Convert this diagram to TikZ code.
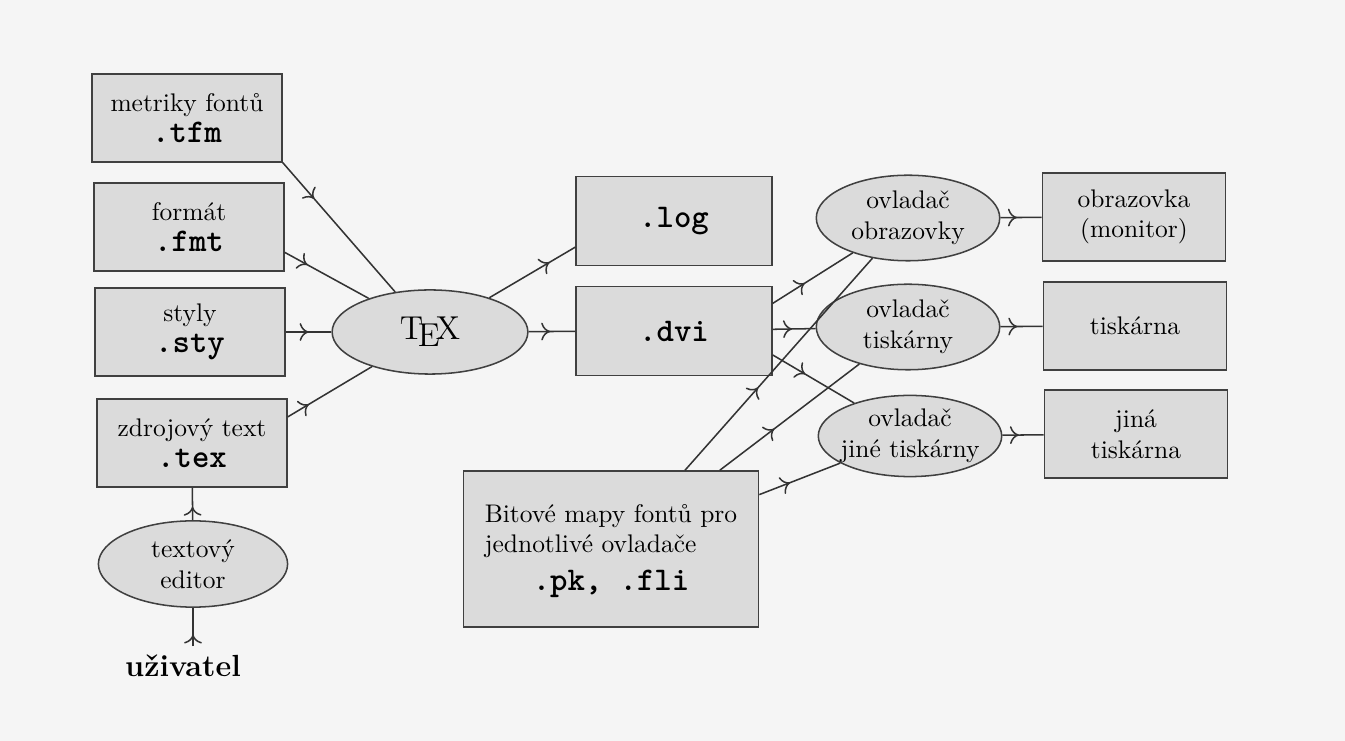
\documentclass[tikz,border=0pt]{standalone}
\usepackage{fontspec}
\usepackage{tikz}
\usetikzlibrary{arrows.meta}
\usetikzlibrary{shapes.geometric}
\usetikzlibrary{decorations.markings}

\newcommand{\fext}[1]{{\fontsize{13}{15}\selectfont\ttfamily\bfseries #1}}

\begin{document}
\begin{tikzpicture}[
x=0.0138cm, y=-0.0138cm,
box/.style={rectangle, draw=black!75, fill=black!14, line width=0.6pt,
minimum width=2.62cm, minimum height=1.21cm, align=center, inner sep=2pt},
drv/.style={ellipse, draw=black!75, fill=black!14, line width=0.6pt,
minimum width=2.53cm, minimum height=1.18cm, align=center, inner xsep=-4mm, inner ysep=0pt},
flow/.style={draw=black!80, line width=0.6pt, postaction={decorate},
decoration={markings, mark=at position #1 with {\arrow{To[length=3.5pt, width=7pt]}}}},
flow/.default=0.4
]
\useasboundingbox[fill=black!4] (0,0) rectangle (1345,741);

\node[box] (tfm) at (187,118) {metriky fontů\\\fext{.tfm}};
\node[box] (fmt) at (189,227) {formát\\\fext{.fmt}};
\node[box] (sty) at (190,332) {styly\\\fext{.sty}};
\node[box] (src) at (192,443) {zdrojový text\\\fext{.tex}};
\node[drv, minimum width=2.7cm, minimum height=1.16cm] (tex) at (430,332) {\fontsize{13}{15}\selectfont\TeX};
\node[box, minimum width=2.7cm, minimum height=1.23cm] (log) at (674,221) {\fext{.log}};
\node[box, minimum width=2.7cm, minimum height=1.23cm] (dvi) at (674,331) {\fext{.dvi}};
\node[drv] (obr) at (908,218) {ovladač\\obrazovky};
\node[drv] (tisk) at (908,327) {ovladač\\tiskárny};
\node[drv, minimum height=1.12cm] (jine) at (910,436) {ovladač\\jiné tiskárny};
\node[box, minimum width=2.53cm] (monitor) at (1134,217) {obrazovka\\(monitor)};
\node[box, minimum width=2.53cm] (printer) at (1135,326) {tiskárna};
\node[box, minimum width=2.53cm] (other) at (1136,434) {jiná\\tiskárna};
\node[box, minimum width=4.07cm, minimum height=2.15cm] (pk) at (611,549)
  {\begin{tabular}{@{}l@{}}Bitové mapy fontů pro\\jednotlivé ovladače\end{tabular}\\[2pt]\fext{.pk, .fli}};
\node[drv, minimum width=2.61cm, minimum height=1.19cm] (editor) at (193,564) {textový\\editor};
\node[font=\large\bfseries] (user) at (183,666) {uživatel};

% vstupy TeXu
\draw[flow=0.28] (tfm.south east) -- (tex);
\draw[flow=0.27] ([yshift=-0.35cm]fmt.east) -- (tex);
\draw[flow=0.5] (sty) -- (tex);
\draw[flow=0.25] ([yshift=0.36cm]src.east) -- (tex);
\draw[flow=0.7] (tex.30) -- ([yshift=-0.36cm]log.west);
\draw[flow=0.46] (tex) -- (dvi);
% ovladace
\draw[flow] ([yshift=0.38cm]dvi.east) -- (obr);
\draw[flow=0.45] (dvi) -- (tisk);
\draw[flow] ([yshift=-0.33cm]dvi.east) -- (jine);
\draw[flow=0.39] ([xshift=1.02cm]pk.north) -- (obr);
\draw[flow=0.39] ([xshift=1.5cm]pk.north) -- (tisk);
\draw[flow=0.38] ([yshift=0.75cm]pk.east) -- (jine);
\draw[flow] (obr) -- (monitor);
\draw[flow] (tisk) -- (printer);
\draw[flow] (jine) -- (other);
% editor
\draw[flow=0.41] (editor) -- (src);
\draw[flow=0.3] (user.north -| editor) -- (editor);
\end{tikzpicture}
\end{document}
